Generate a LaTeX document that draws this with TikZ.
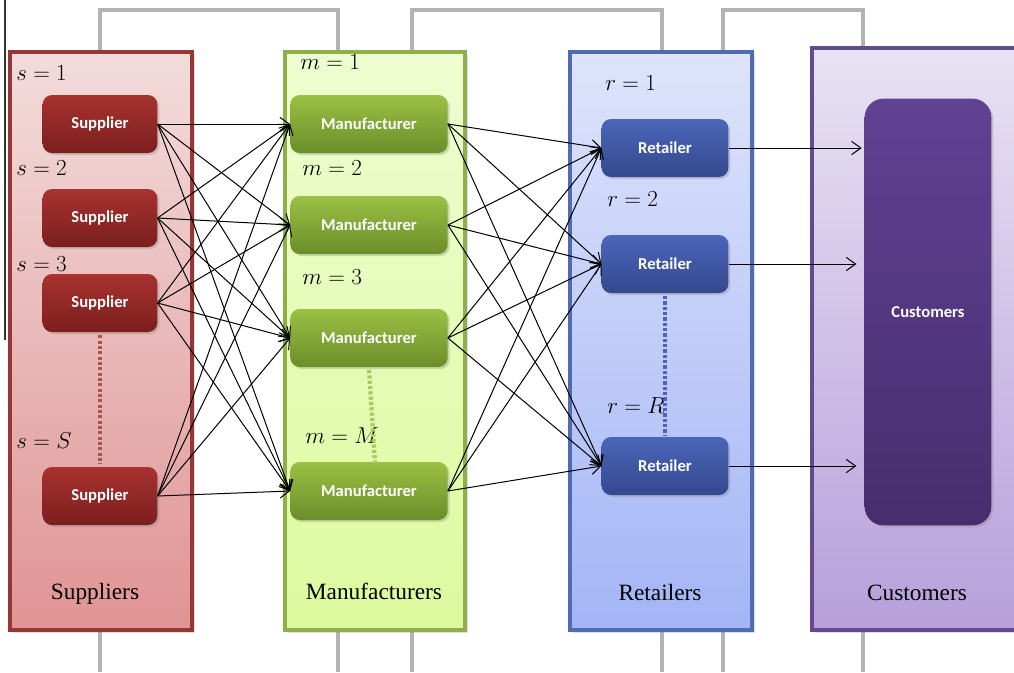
\documentclass[tikz,border=0pt]{standalone}
\usepackage{fontspec}
\setmainfont{Liberation Serif}
\newfontfamily\boxfont{Carlito}
\usetikzlibrary{shadows,arrows.meta}

\definecolor{supBorder}{HTML}{953735}
\definecolor{supTop}{HTML}{F3DCDC}
\definecolor{supBot}{HTML}{E09494}
\definecolor{supBoxTop}{HTML}{A8322F}
\definecolor{supBoxBot}{HTML}{7A1F1E}
\definecolor{manBorder}{HTML}{8EB04A}
\definecolor{manTop}{HTML}{EEFDD0}
\definecolor{manBot}{HTML}{DDFA9E}
\definecolor{manBoxTop}{HTML}{9BC044}
\definecolor{manBoxBot}{HTML}{6A8E2A}
\definecolor{retBorder}{HTML}{4F6CB2}
\definecolor{retTop}{HTML}{DEE4FB}
\definecolor{retBot}{HTML}{A3B5F6}
\definecolor{retBoxTop}{HTML}{4B65B8}
\definecolor{retBoxBot}{HTML}{34488E}
\definecolor{cusBorder}{HTML}{634A8E}
\definecolor{cusTop}{HTML}{E8E2F3}
\definecolor{cusBot}{HTML}{B7A0DB}
\definecolor{cusBoxTop}{HTML}{614193}
\definecolor{cusBoxBot}{HTML}{472D6E}
\definecolor{linkGray}{HTML}{B3B3B3}

\tikzset{
  panel/.style={draw=#1Border, line width=2.6pt, top color=#1Top, bottom color=#1Bot,
    drop shadow={opacity=0.25, shadow xshift=2pt, shadow yshift=-2pt}},
  unit/.style={rectangle, rounded corners=7pt, draw=none, text=white,
    font=\boxfont\bfseries\fontsize{12.5}{15}\selectfont,
    top color=#1BoxTop, bottom color=#1BoxBot,
    drop shadow={opacity=0.3, shadow xshift=1.5pt, shadow yshift=-1.5pt},
    minimum height=43.5pt, inner sep=0pt},
  title/.style={font=\fontsize{17.5}{20}\selectfont, text=black, anchor=base},
  idx/.style={font=\fontsize{16}{19}\selectfont, anchor=west, inner sep=0pt},
  flow/.style={black, line width=0.75pt, -{Straight Barb[length=7pt,width=10pt,line width=0.75pt]}},
  link/.style={linkGray, line width=2.6pt},
  ellipsis/.style={line width=3.2pt, dash pattern=on 2.4pt off 1.6pt, #1}
}

\begin{document}
\begin{tikzpicture}[x=0.75pt,y=-0.75pt]
\useasboundingbox (0,0) rectangle (1014,672);

% grey links between the stage panels
\draw[link] (100,52) -- (100,10) -- (338,10) -- (338,52);
\draw[link] (412,52) -- (412,10) -- (662,10) -- (662,52);
\draw[link] (723,52) -- (723,10) -- (863,10) -- (863,48);
\foreach \x in {100,338,412,662,723,863}
  \draw[link] (\x,631) -- (\x,672);

% thin rule on the left
\draw[gray!40!black, line width=0.9pt] (5,0) -- (5,340);

% stage panels
\draw[panel=sup] (10,52) rectangle (192,630);
\draw[panel=man] (285,52) rectangle (465,630);
\draw[panel=ret] (570,52) rectangle (752,630);
\draw[panel=cus] (812,48) rectangle (1022,630);

\node[title] (tS) at (95,599) {Suppliers};
\node[title] (tM) at (374,599) {Manufacturers};
\node[title] (tR) at (660,600) {Retailers};
\node[title] (tC) at (917,600) {Customers};

% suppliers
\node[unit=sup, minimum width=86pt] (s1) at (100,124) {Supplier};
\node[unit=sup, minimum width=86pt] (s2) at (100,218) {Supplier};
\node[unit=sup, minimum width=86pt] (s3) at (100,303) {Supplier};
\node[unit=sup, minimum width=86pt] (s4) at (100,496) {Supplier};

% manufacturers
\node[unit=man, minimum width=118pt] (m1) at (369,124) {Manufacturer};
\node[unit=man, minimum width=118pt] (m2) at (369,225) {Manufacturer};
\node[unit=man, minimum width=118pt] (m3) at (369,338) {Manufacturer};
\node[unit=man, minimum width=118pt] (m4) at (369,491) {Manufacturer};

% retailers
\node[unit=ret, minimum width=95pt] (r1) at (665,148) {Retailer};
\node[unit=ret, minimum width=95pt] (r2) at (665,264) {Retailer};
\node[unit=ret, minimum width=95pt] (r3) at (665,466) {Retailer};

% customers
\node[unit=cus, minimum width=95pt, minimum height=320pt, rounded corners=14pt] (c) at (928,312) {Customers};

% index labels
\node[idx] (ls1) at (16,73) {$s=1$};
\node[idx] (ls2) at (16,168) {$s=2$};
\node[idx] (ls3) at (16,264) {$s=3$};
\node[idx] (ls4) at (16,441) {$s=S$};
\node[idx] (lm1) at (300,62) {$m=1$};
\node[idx] (lm2) at (302,168) {$m=2$};
\node[idx] (lm3) at (302,277) {$m=3$};
\node[idx] (lm4) at (305,436) {$m=M$};
\node[idx] (lr1) at (605,83) {$r=1$};
\node[idx] (lr2) at (607,199) {$r=2$};
\node[idx] (lr3) at (607,406) {$r=R$};

% dotted continuation marks
\path (s3.south) ++(0,3) coordinate (d1a) (s4.north) ++(0,-3) coordinate (d1b);
\draw[ellipsis=supBorder!85] (d1a) -- (d1b);
\coordinate (d2a) at (369,370);
\coordinate (d2b) at (375,463);
\draw[ellipsis=manBoxTop!85] (d2a) -- (d2b);
\coordinate (d3a) at (665,296);
\coordinate (d3b) at (665,435);
\draw[ellipsis=retBoxTop] (d3a) -- (d3b);

% flows
\foreach \a in {s1,s2,s3,s4}
  \foreach \b in {m1,m2,m3,m4}
    \draw[flow] (\a.east) -- (\b.west);
\foreach \a in {m1,m2,m3,m4}
  \foreach \b in {r1,r2,r3}
    \draw[flow] (\a.east) -- (\b.west);
\draw[flow] (r1.east) -- ([xshift=-2pt]r1.east -| c.west);
\draw[flow] (r2.east) -- ([xshift=-6pt]r2.east -| c.west);
\draw[flow] (r3.east) -- ([xshift=-6pt]r3.east -| c.west);
\end{tikzpicture}
\end{document}
